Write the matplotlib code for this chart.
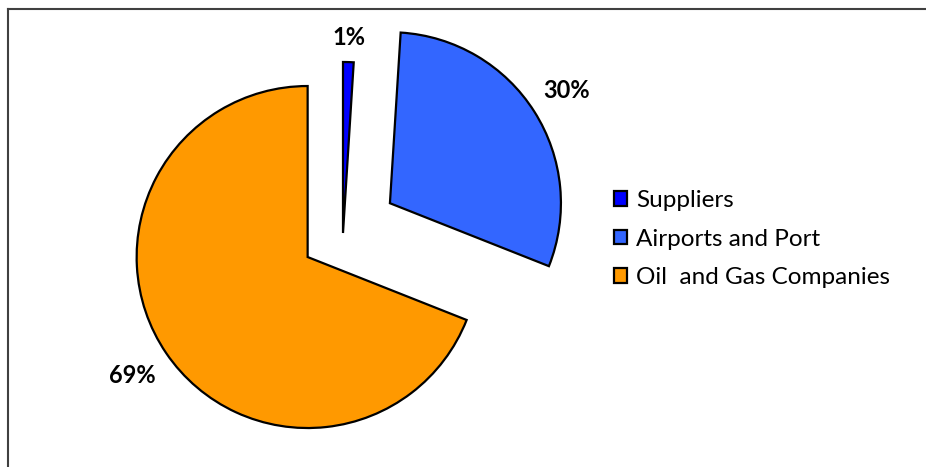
import matplotlib
matplotlib.use('Agg')
from matplotlib import pyplot as plt
from matplotlib.lines import Line2D

categories = ['Suppliers', 'Airports and Port', 'Oil  and Gas Companies']
shares = [1, 30, 69]
colors = ['#0000FF', '#3366FF', '#FF9900']
explode_frac = [0, 0.325, 0.25]
label_scale = [0.96, 1.03, 1.04]  # per-label tweak of the label distance

plt.rcParams['font.family'] = ['Lato', 'DejaVu Sans']

W, H = 926, 467
R = 171
fig = plt.figure(figsize=(W / 100, H / 100), dpi=100)
ax = fig.add_axes([0, 0, 1, 1])

# pie's explode is in data units, so scale it by the radius
wedges, texts = ax.pie(shares, explode=[e * R for e in explode_frac], colors=colors,
                       labels=[f'{v}%' for v in shares], labeldistance=1.19,
                       startangle=90, counterclock=False,
                       center=(343, H - 233), radius=R,
                       wedgeprops=dict(edgecolor='black', linewidth=1.6))
for w, t, k in zip(wedges, texts, label_scale):
    cx, cy = w.center
    tx, ty = t.get_position()
    t.set_position((cx + (tx - cx) * k, cy + (ty - cy) * k))
    t.set_ha('center')
    t.set_va('center')
    t.set_fontsize(17)
    t.set_fontweight('bold')

ax.set_xlim(0, W)
ax.set_ylim(0, H)
ax.set_aspect('equal')
ax.axis('off')

ax.legend(wedges, categories, loc='center left', bbox_to_anchor=(592, H - 239),
          bbox_transform=ax.transData, frameon=False, fontsize=17.5,
          handlelength=0.55, handleheight=0.55, handletextpad=0.35, labelspacing=0.72)

# outer frame (only top and left visible)
fig.add_artist(Line2D([8 / W, 8 / W], [0, 1 - 9 / H], color='#404040', lw=1.5))
fig.add_artist(Line2D([8 / W, 1], [1 - 9 / H, 1 - 9 / H], color='#404040', lw=1.5))

plt.savefig('out.png', dpi=100)
